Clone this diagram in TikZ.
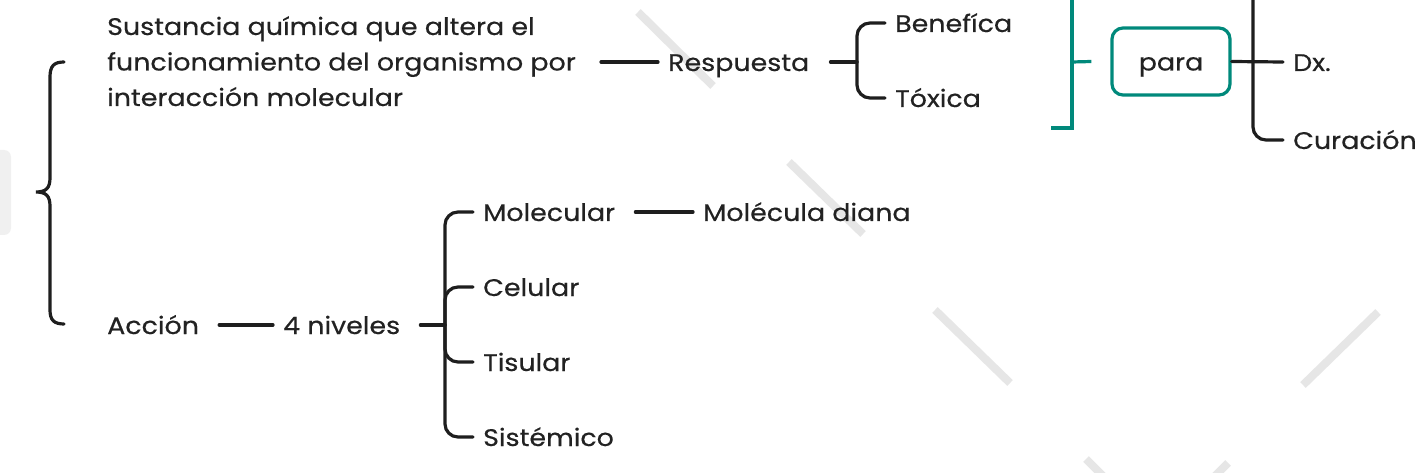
\documentclass[tikz,border=0pt]{standalone}
\usepackage{fontspec}
\setmainfont{Poppins}[FakeStretch=1.12,FakeBold=0.4]
\definecolor{ink}{HTML}{222222}
\definecolor{lineink}{HTML}{1E1E1E}
\definecolor{tealc}{HTML}{00897B}
\definecolor{wmark}{HTML}{E6E6E6}
\definecolor{tab}{HTML}{F0F0F0}
\tikzset{
  lbl/.style={anchor=base west, inner sep=0pt, text height=18pt, text depth=0pt,
              font=\fontsize{24}{35.5}\selectfont, text=ink},
  conn/.style={line width=3.2pt, draw=lineink, line cap=round},
  tconn/.style={line width=3.2pt, draw=tealc},
  wm/.style={line width=8pt, draw=wmark},
  fork/.style={conn, rounded corners=13pt},
  parabox/.style={draw=tealc, line width=3.2pt, rounded corners=11pt, minimum width=118pt,
              minimum height=67pt, inner sep=0pt, font=\fontsize{24}{30}\selectfont, text=ink,
              text height=18pt, text depth=0pt}
}
\begin{document}
\begin{tikzpicture}[x=1pt,y=-1pt]
\useasboundingbox (0,0) rectangle (1419,473);
\clip (0,0) rectangle (1419,473);
\fill[white] (0,0) rectangle (1419,473);
% background marks
\fill[tab, rounded corners=7pt] (-12,150) rectangle (11,235);
\draw[wm] (638,12) -- (713,86);
\draw[wm] (789,162) -- (863,234);
\draw[wm] (935,310) -- (1010,383);
\draw[wm] (1303,385) -- (1378,312);
\draw[wm] (1086,459) -- (1112,485);
\draw[wm] (1228,463) -- (1204,487);

% nodes
\node[anchor=base west, inner sep=0pt, align=left, font=\fontsize{24}{35.5}\selectfont, text=ink] (sus) at (107,106)
  {Sustancia química que altera el\\funcionamiento del organismo por\\interacción molecular};
\node[lbl] (resp) at (668,71) {Respuesta};
\node[lbl] (ben) at (895,32) {Benefíca};
\node[lbl] (tox) at (895,107) {Tóxica};
\node[parabox] (para) at (1171,61.5) {para};
\node[lbl] (dx) at (1293,71) {Dx.};
\node[lbl] (cur) at (1293,149) {Curación};
\node[lbl] (acc) at (107,334) {Acción};
\node[lbl] (niv) at (283,334) {4 niveles};
\node[lbl] (mol) at (483,221) {Molecular};
\node[lbl] (dia) at (703,221) {Molécula diana};
\node[lbl] (cel) at (483,296) {Celular};
\node[lbl] (tis) at (483,371) {Tisular};
\node[lbl] (sis) at (483,446) {Sistémico};

% fork points
\coordinate (f1) at (857,62);
\coordinate (f2) at (445,325);
\coordinate (ttop) at (1072,-6);
\coordinate (tbot) at (1051,128);
\coordinate (tmid) at (1072,62);
\coordinate (ftop) at (1253,-6);
\coordinate (l1) at (601,62);

% left brace
\coordinate (btop) at (64,62);
\coordinate (bbot) at (64,324);
\coordinate (btip) at (36,192);
\draw[conn] (btop) .. controls (54,62) and (50,66) .. (50,77) -- (50,178)
  .. controls (50,188) and (46,192) .. (btip)
  .. controls (46,192) and (50,196) .. (50,206) -- (50,310)
  .. controls (50,320) and (54,324) .. (bbot);

% top branch
\draw[conn] (l1) -- ([xshift=-10pt]resp.west);
\draw[conn] ([xshift=21pt]resp.east) -- (f1);
\draw[fork] (f1) |- ([xshift=-10pt]ben.west);
\draw[fork] (f1) |- ([xshift=-10pt]tox.west);

% teal summary bracket
\draw[tconn] (tbot) -- (1072,128) -- (ttop);
\draw[tconn] (tmid) -- ([xshift=-19pt]para.west);

% para fork
\draw[conn] (para.east) -- ([xshift=-10pt]dx.west);
\draw[fork] (ftop) |- ([xshift=-10pt]cur.west);

% lower branch
\draw[conn] ([xshift=20pt]acc.east) -- ([xshift=-10pt]niv.west);
\draw[conn] ([xshift=20pt]niv.east) -- (f2);
\draw[fork] (f2) |- ([xshift=-10pt]mol.west);
\draw[fork] (f2) |- ([xshift=-10pt]cel.west);
\draw[fork] (f2) |- ([xshift=-10pt]tis.west);
\draw[fork] (f2) |- ([xshift=-10pt]sis.west);
\draw[conn] ([xshift=20pt]mol.east) -- ([xshift=-10pt]dia.west);
\end{tikzpicture}
\end{document}
